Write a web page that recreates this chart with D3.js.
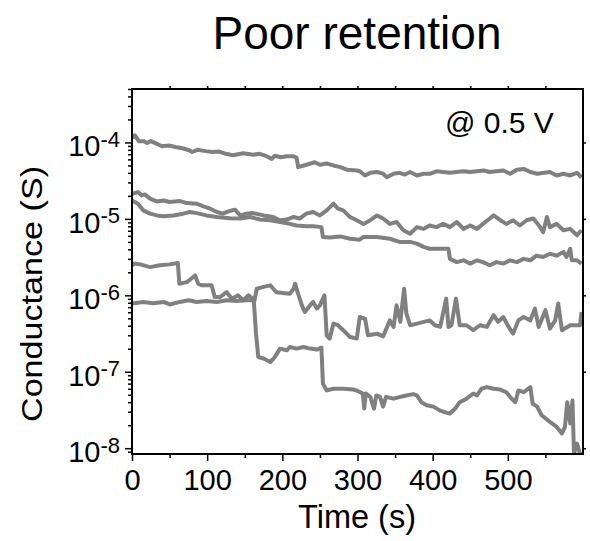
<!DOCTYPE html>
<html>
<head>
<meta charset="utf-8">
<script src="https://cdn.jsdelivr.net/npm/d3@7"></script>
<style>
  body { margin: 0; background: #fff; }
  svg text { font-family: "Liberation Sans", Arial, sans-serif; fill: #000; }
</style>
</head>
<body>
<div class="container"></div>
<script>
// traces: [time (s), conductance (S)]
const traceA = [[0,1.17e-4],[4,1.24e-4],[9,1.04e-4],[16,1.04e-4],[20,9.8e-5],[25,1.04e-4],[31,9.8e-5],[40,8.9e-5],[49,9.1e-5],[58,8.7e-5],[67,8.4e-5],[76,7.9e-5],[80,7.5e-5],[87,8.0e-5],[98,7.7e-5],[107,7.5e-5],[116,7.6e-5],[125,7.1e-5],[134,6.8e-5],[148,7.2e-5],[161,6.9e-5],[170,7.1e-5],[179,6.6e-5],[186,6.1e-5],[190,6.7e-5],[198,6.4e-5],[206,6.6e-5],[215,6.6e-5],[219,6.3e-5],[221,4.75e-5],[232,5.1e-5],[243,5.5e-5],[250,5.1e-5],[259,5.3e-5],[268,5.0e-5],[277,4.75e-5],[286,4.4e-5],[299,4.3e-5],[303,4.2e-5],[310,3.7e-5],[317,4.0e-5],[326,4.1e-5],[334,3.9e-5],[339,3.5e-5],[348,3.9e-5],[356,4.0e-5],[363,3.8e-5],[370,4.1e-5],[379,3.7e-5],[388,3.9e-5],[397,3.9e-5],[406,4.2e-5],[414,4.1e-5],[423,4.0e-5],[432,4.1e-5],[441,4.2e-5],[450,4.1e-5],[459,4.2e-5],[468,4.3e-5],[476,4.1e-5],[485,4.2e-5],[494,4.3e-5],[503,3.9e-5],[512,4.4e-5],[521,4.5e-5],[530,4.1e-5],[539,3.9e-5],[548,4.0e-5],[556,4.1e-5],[565,3.7e-5],[574,3.9e-5],[583,3.7e-5],[592,4.0e-5],[598,3.5e-5]];

const traceB = [[0,2.13e-5],[8,2.24e-5],[13,2.03e-5],[17,2.09e-5],[24,1.84e-5],[33,1.69e-5],[42,1.74e-5],[50,1.66e-5],[64,1.71e-5],[73,1.61e-5],[86,1.58e-5],[95,1.46e-5],[104,1.36e-5],[113,1.23e-5],[121,1.17e-5],[130,1.27e-5],[137,1.32e-5],[144,1.11e-5],[152,1.17e-5],[161,1.19e-5],[175,1.11e-5],[188,1.06e-5],[197,9.6e-6],[206,9.8e-6],[215,1.06e-5],[223,1.01e-5],[232,1.17e-5],[241,1.23e-5],[250,1.11e-5],[259,1.29e-5],[268,1.58e-5],[274,1.36e-5],[281,1.29e-5],[290,1.06e-5],[299,9.6e-6],[308,8.6e-6],[317,9.6e-6],[326,1.11e-5],[334,1.01e-5],[343,8.6e-6],[352,9.1e-6],[361,7.1e-6],[370,6.4e-6],[379,7.8e-6],[388,7.4e-6],[396,8.2e-6],[405,7.8e-6],[414,8.6e-6],[423,7.8e-6],[432,9.1e-6],[441,7.4e-6],[450,8.2e-6],[459,7.4e-6],[467,8.6e-6],[476,1.01e-5],[481,1.11e-5],[490,9.6e-6],[498,8.6e-6],[507,9.6e-6],[516,8.2e-6],[525,9.6e-6],[534,1.01e-5],[543,7.8e-6],[547,6.7e-6],[552,1.06e-5],[556,7.8e-6],[565,8.6e-6],[574,7.1e-6],[583,7.4e-6],[592,6.1e-6],[598,7.1e-6]];

const traceC = [[0,1.74e-5],[8,1.58e-5],[15,1.29e-5],[24,1.17e-5],[33,1.11e-5],[42,1.08e-5],[55,1.11e-5],[68,1.17e-5],[77,1.23e-5],[86,1.19e-5],[99,1.11e-5],[113,1.06e-5],[130,1.02e-5],[144,1.01e-5],[157,1.06e-5],[170,9.8e-6],[184,9.6e-6],[197,9.1e-6],[210,8.6e-6],[219,8.2e-6],[232,8.0e-6],[241,8.0e-6],[252,7.8e-6],[254,5.8e-6],[263,5.7e-6],[277,5.9e-6],[290,5.5e-6],[303,5.35e-6],[308,5.8e-6],[326,5.8e-6],[343,5.5e-6],[356,5.0e-6],[370,5.0e-6],[379,4.75e-6],[388,4.3e-6],[396,4.07e-6],[414,4.07e-6],[421,4.07e-6],[423,3.0e-6],[432,2.72e-6],[441,2.87e-6],[450,2.6e-6],[459,2.87e-6],[467,2.72e-6],[476,2.47e-6],[485,2.72e-6],[494,2.6e-6],[503,2.87e-6],[512,2.72e-6],[521,3.0e-6],[530,2.87e-6],[538,3.3e-6],[547,3.17e-6],[556,3.5e-6],[565,3.3e-6],[574,3.7e-6],[578,3.17e-6],[583,4.07e-6],[585,2.87e-6],[592,2.87e-6],[598,2.6e-6]];

const traceD = [[0,2.47e-6],[3,2.6e-6],[11,2.54e-6],[24,2.34e-6],[37,2.47e-6],[50,2.54e-6],[61,2.64e-6],[63,1.42e-6],[73,1.49e-6],[77,1.6e-6],[84,1.82e-6],[88,1.42e-6],[93,1.35e-6],[106,1.35e-6],[110,9.5e-7],[117,9.5e-7],[126,1.1e-6],[133,9.05e-7],[141,1.0e-6],[148,8.6e-7],[155,1.0e-6],[163,8.6e-7],[166,1.22e-6],[175,1.29e-6],[184,1.35e-6],[188,1.22e-6],[192,1.1e-6],[201,1.07e-6],[210,1.05e-6],[215,1.22e-6],[217,1.42e-6],[221,1.05e-6],[226,7.4e-7],[230,6.05e-7],[237,7.4e-7],[241,8.2e-7],[246,6.7e-7],[250,7.4e-7],[256,1.0e-6],[259,3.0e-7],[263,2.72e-7],[268,4.27e-7],[274,4.06e-7],[281,3.5e-7],[290,2.85e-7],[299,2.72e-7],[303,5.2e-7],[310,4.95e-7],[314,3.0e-7],[326,3.15e-7],[334,2.9e-7],[343,4.7e-7],[348,3.86e-7],[352,7.4e-7],[357,4.5e-7],[362,1.22e-6],[365,5.8e-7],[370,4.06e-7],[379,4.27e-7],[388,4.5e-7],[396,4.7e-7],[403,4.06e-7],[410,3.86e-7],[418,9.05e-7],[421,3.86e-7],[425,4.06e-7],[431,9.05e-7],[436,4.06e-7],[445,4.06e-7],[454,3.5e-7],[463,4.06e-7],[472,3.86e-7],[481,5.5e-7],[487,4.5e-7],[494,5.2e-7],[501,3.86e-7],[507,3.15e-7],[514,4.7e-7],[521,5.2e-7],[530,4.7e-7],[536,6.7e-7],[541,3.86e-7],[550,6.4e-7],[556,3.67e-7],[563,4.7e-7],[567,7.8e-7],[572,3.5e-7],[583,4.06e-7],[596,4.06e-7],[598,6.05e-7]];

const traceE = [[0,7.8e-7],[15,8.2e-7],[28,7.9e-7],[42,8.2e-7],[50,7.6e-7],[64,8.2e-7],[75,8.6e-7],[86,8.2e-7],[99,8.4e-7],[113,8.2e-7],[126,8.6e-7],[139,8.4e-7],[152,8.6e-7],[162,8.6e-7],[165,3.15e-7],[168,1.56e-7],[175,1.49e-7],[184,1.34e-7],[190,1.56e-7],[197,2.01e-7],[206,1.91e-7],[210,2.11e-7],[219,2.01e-7],[228,2.11e-7],[237,2.01e-7],[246,1.95e-7],[252,2.07e-7],[254,7.0e-8],[259,5.7e-8],[268,6.0e-8],[281,6.0e-8],[294,5.85e-8],[299,5.7e-8],[307,5.2e-8],[309,3.3e-8],[311,5.2e-8],[317,4.7e-8],[322,3.3e-8],[325,4.9e-8],[330,4.7e-8],[334,3.5e-8],[338,4.7e-8],[348,4.45e-8],[357,4.7e-8],[365,4.9e-8],[374,5.1e-8],[379,4.9e-8],[385,4.0e-8],[392,3.65e-8],[401,3.5e-8],[410,3.1e-8],[419,2.9e-8],[423,2.84e-8],[430,3.3e-8],[436,4.0e-8],[445,4.45e-8],[454,5.2e-8],[459,4.9e-8],[465,6.0e-8],[472,6.3e-8],[481,6.0e-8],[490,5.85e-8],[498,5.4e-8],[505,4.45e-8],[510,4.0e-8],[514,5.7e-8],[521,5.4e-8],[530,6.3e-8],[533,3.84e-8],[539,3.5e-8],[545,2.7e-8],[556,2.21e-8],[565,1.9e-8],[572,1.56e-8],[576,1.9e-8],[579,4.0e-8],[583,2.1e-8],[586,4.2e-8],[588,8.5e-9],[592,1.15e-8],[596,8.5e-9]];

const traces = [traceA, traceB, traceC, traceD, traceE];

// axis ticks and labels
const xTickValues = [0, 100, 200, 300, 400, 500];
const yTickValues = [1e-4, 1e-5, 1e-6, 1e-7, 1e-8];
const yTickExponents = ["-4", "-5", "-6", "-7", "-8"];

const width = 590;
const height = 541;
const margin = { top: 89, right: 7, bottom: 87, left: 132 };

const svg = d3.select(".container")
  .append("svg")
  .attr("width", width)
  .attr("height", height);

const xScale = d3.scaleLinear()
  .domain([0, 600])
  .range([margin.left, width - margin.right]);

const yScale = d3.scaleLog()
  .domain([8.4e-9, 5e-4])
  .range([height - margin.bottom, margin.top]);

const x0 = margin.left, x1 = width - margin.right;
const y0 = height - margin.bottom, y1 = margin.top;

// clip the traces to the frame
svg.append("clipPath").attr("id", "plotClip")
  .append("rect")
  .attr("x", x0).attr("y", y1)
  .attr("width", x1 - x0).attr("height", y0 - y1);

const line = d3.line()
  .x(d => xScale(d[0]))
  .y(d => yScale(d[1]));

svg.append("g")
  .attr("clip-path", "url(#plotClip)")
  .selectAll("path")
  .data(traces)
  .join("path")
  .attr("d", line)
  .attr("fill", "none")
  .attr("stroke", "#808080")
  .attr("stroke-width", 4)
  .attr("stroke-linejoin", "round");

// minor log ticks inside the domain
const yMinor = yScale.ticks().filter(v => !yTickValues.includes(v));
const xMinor = d3.range(50, 600, 100);

function clean(g) {
  g.select(".domain").remove();
  g.selectAll("line").attr("stroke", "#000").attr("stroke-width", 1.5);
}

// bottom axis
svg.append("g")
  .attr("transform", `translate(0,${y0})`)
  .call(d3.axisBottom(xScale).tickValues(xMinor).tickSize(4).tickFormat(""))
  .call(clean);
svg.append("g")
  .attr("transform", `translate(0,${y0})`)
  .call(d3.axisBottom(xScale).tickValues(xTickValues).tickSize(7).tickPadding(8))
  .call(clean)
  .selectAll("text")
  .attr("font-size", 29)
  .attr("font-family", "Liberation Sans, Arial, sans-serif");

// top axis, small ticks only
svg.append("g")
  .attr("transform", `translate(0,${y1})`)
  .call(d3.axisTop(xScale).tickValues(d3.range(50, 600, 50)).tickSize(3).tickFormat(""))
  .call(clean);

// left axis
svg.append("g")
  .attr("transform", `translate(${x0},0)`)
  .call(d3.axisLeft(yScale).tickValues(yMinor).tickSize(4).tickFormat(""))
  .call(clean);
svg.append("g")
  .attr("transform", `translate(${x0},0)`)
  .call(d3.axisLeft(yScale).tickValues(yTickValues).tickSize(7).tickFormat(""))
  .call(clean);

// right axis, small ticks
svg.append("g")
  .attr("transform", `translate(${x1},0)`)
  .call(d3.axisRight(yScale).tickValues(yTickValues).tickSize(3).tickFormat(""))
  .call(clean);

// 10^n labels on the left
const yLabels = svg.append("g")
  .selectAll("text")
  .data(yTickValues)
  .join("text")
  .attr("x", x0 - 12)
  .attr("y", d => yScale(d) + 14)
  .attr("text-anchor", "end")
  .attr("font-size", 29);
yLabels.append("tspan").text("10");
yLabels.append("tspan")
  .attr("dy", -9.5)
  .attr("font-size", 22)
  .text((d, i) => yTickExponents[i]);

// frame
svg.append("rect")
  .attr("x", x0).attr("y", y1)
  .attr("width", x1 - x0).attr("height", y0 - y1)
  .attr("fill", "none")
  .attr("stroke", "#000")
  .attr("stroke-width", 2);

// titles
svg.append("text")
  .attr("x", 357).attr("y", 48.5)
  .attr("text-anchor", "middle")
  .attr("font-size", 46)
  .text("Poor retention");

svg.append("text")
  .attr("x", 357).attr("y", 528)
  .attr("text-anchor", "middle")
  .attr("font-size", 32.5)
  .text("Time (s)");

svg.append("text")
  .attr("transform", "translate(42,294) rotate(-90)")
  .attr("text-anchor", "middle")
  .attr("font-size", 30)
  .attr("textLength", 256)
  .attr("lengthAdjust", "spacingAndGlyphs")
  .text("Conductance (S)");

svg.append("text")
  .attr("x", 445).attr("y", 133)
  .attr("font-size", 30)
  .text("@ 0.5 V");
</script>
</body>
</html>
